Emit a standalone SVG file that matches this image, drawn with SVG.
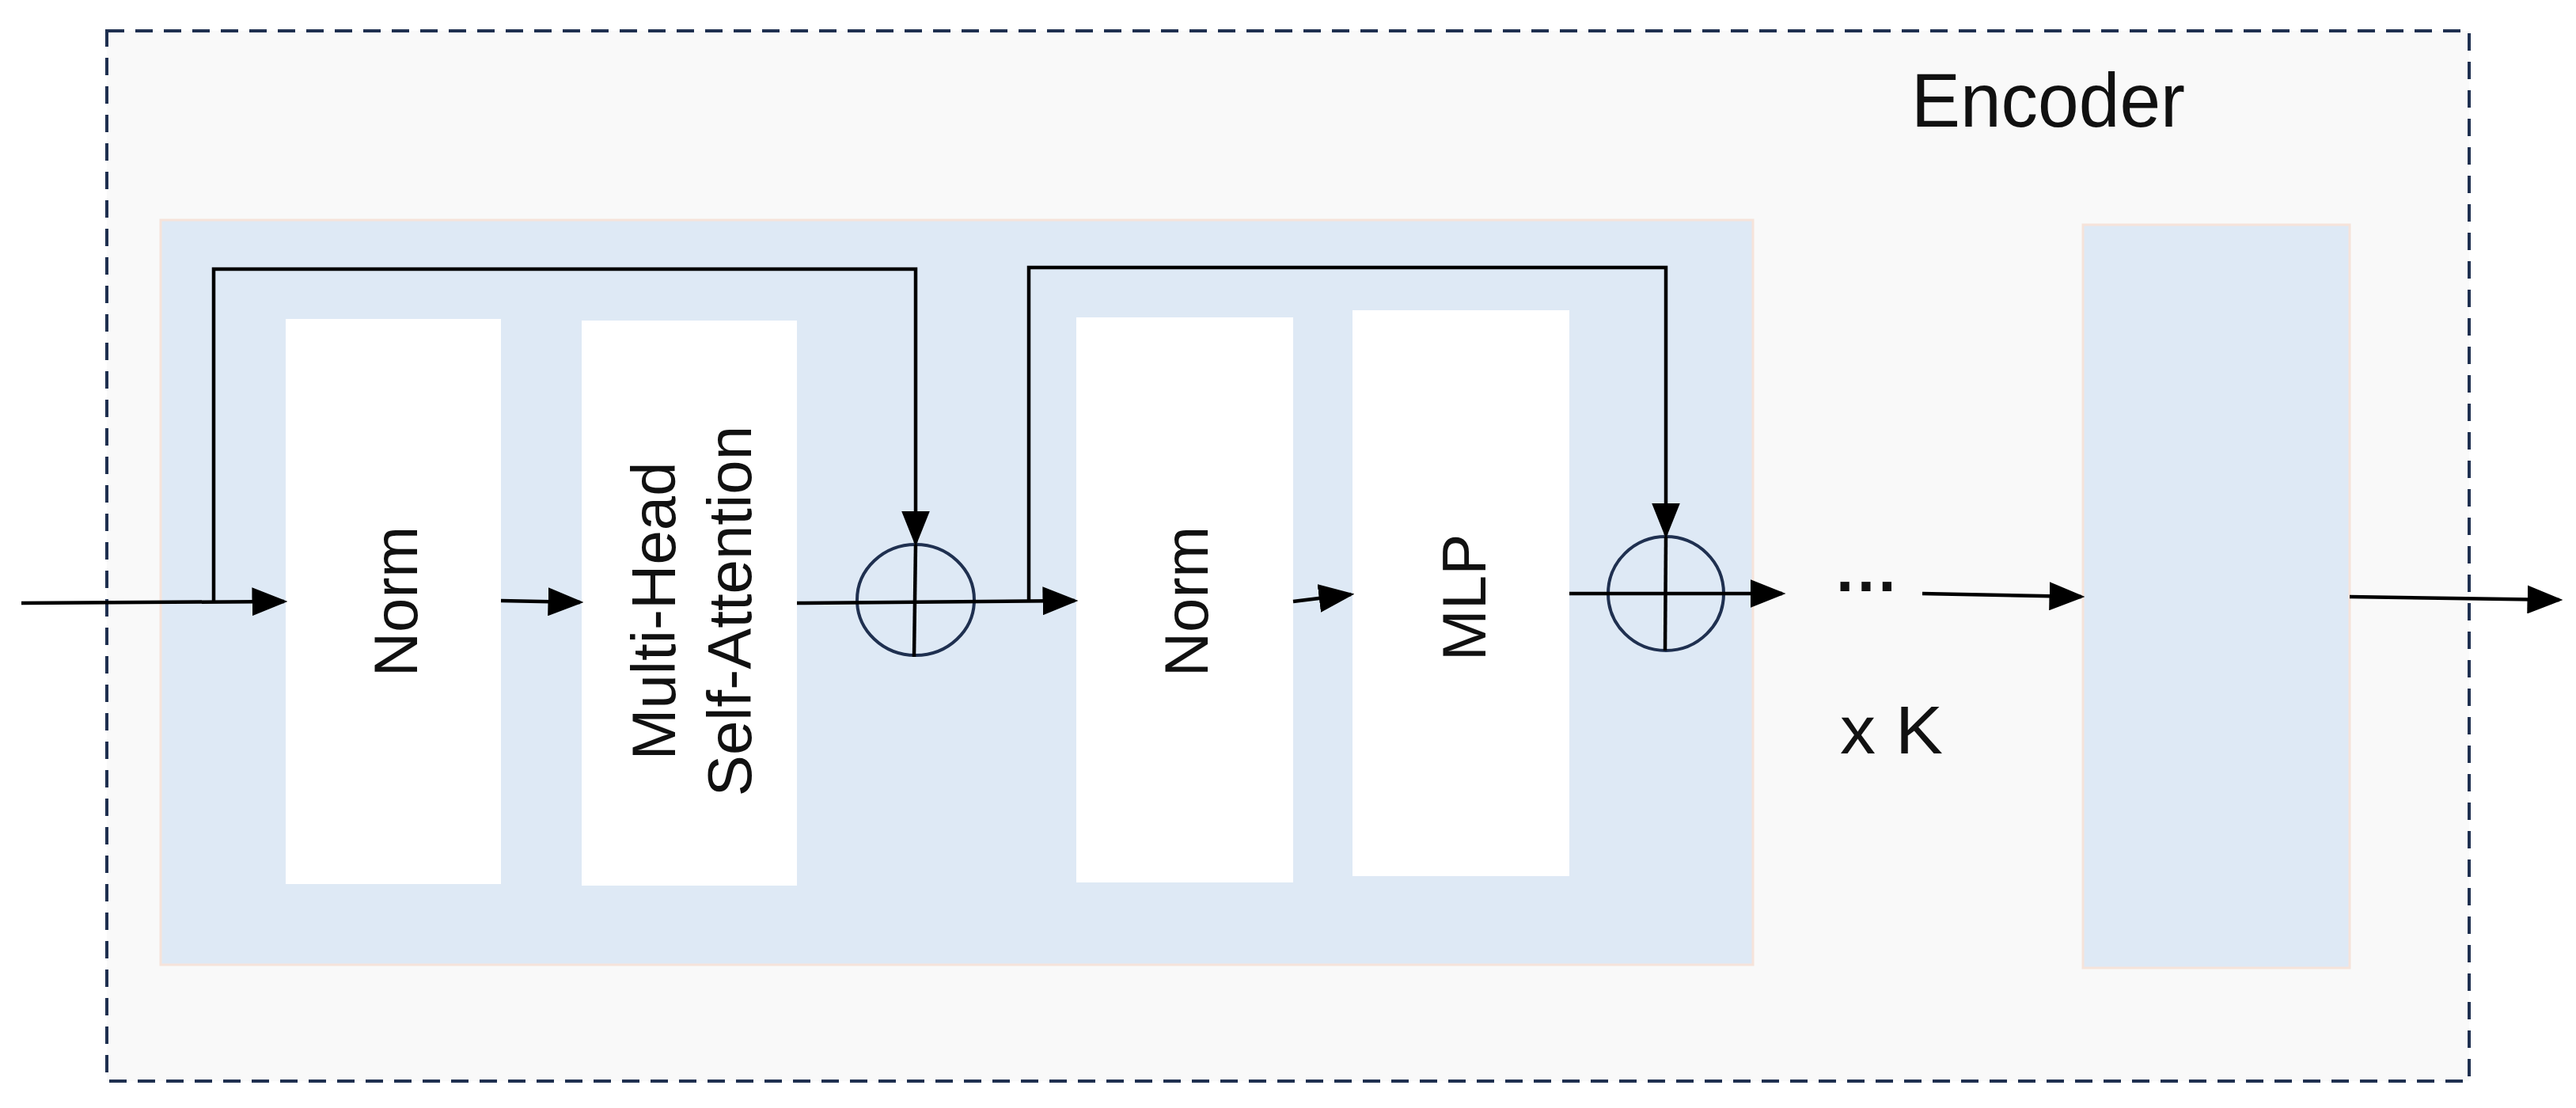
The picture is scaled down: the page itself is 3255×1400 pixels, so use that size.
<svg xmlns="http://www.w3.org/2000/svg" width="3255" height="1400" viewBox="0 0 3255 1400">
<defs>
<marker id="ah" markerWidth="10" markerHeight="8" refX="9" refY="4" orient="auto" markerUnits="strokeWidth"><path d="M0,0 L10,4 L0,8 Z" fill="#000"/></marker>
<style>
.blk{fill:#fff}
.blue{fill:#dee9f5;stroke:#f6e3da;stroke-width:3}
.t{font-family:"Liberation Sans",Arial,sans-serif;font-size:78px;fill:#111}
.ln{stroke:#000;stroke-width:4.5;fill:none}
.c{fill:none;stroke:#1f3050;stroke-width:4}
</style>
</defs>
<rect x="0" y="0" width="3255" height="1400" fill="#fff"/>
<g id="encoder">
<rect x="135" y="39" width="2985" height="1327" fill="#f9f9f9" stroke="#1f3050" stroke-width="4" stroke-dasharray="22,14"/>
<text x="2415" y="160" font-family="Liberation Sans,Arial,sans-serif" font-size="96" fill="#111" textLength="346" lengthAdjust="spacingAndGlyphs">Encoder</text>
</g>
<g id="block"><rect class="blue" x="203" y="278" width="2012" height="941"/></g>
<g id="block2"><rect class="blue" x="2632" y="284" width="337" height="939"/></g>
<g id="norm1"><rect class="blk" x="361" y="403" width="272" height="714"/>
<text class="t" transform="translate(500,760) rotate(-90)" text-anchor="middle" dominant-baseline="central">Norm</text></g>
<g id="mhsa"><rect class="blk" x="735" y="405" width="272" height="714"/>
<text class="t" transform="translate(826,772) rotate(-90)" text-anchor="middle" dominant-baseline="central">Multi-Head</text>
<text class="t" transform="translate(922,772) rotate(-90)" text-anchor="middle" dominant-baseline="central">Self-Attention</text></g>
<g id="norm2"><rect class="blk" x="1360" y="401" width="274" height="714"/>
<text class="t" transform="translate(1499,760) rotate(-90)" text-anchor="middle" dominant-baseline="central">Norm</text></g>
<g id="mlp"><rect class="blk" x="1709" y="392" width="274" height="715"/>
<text class="t" transform="translate(1850,755) rotate(-90)" text-anchor="middle" dominant-baseline="central">MLP</text></g>
<g id="add1"><ellipse class="c" cx="1157" cy="758" rx="74" ry="70"/></g>
<g id="add2"><ellipse class="c" cx="2105" cy="750" rx="73" ry="72"/></g>
<g id="labels">
<text x="2320" y="768" font-family="Liberation Sans,Arial,sans-serif" font-size="80" font-weight="bold" fill="#111">···</text>
<text x="2325" y="952" font-family="Liberation Sans,Arial,sans-serif" font-size="86" fill="#111" textLength="130" lengthAdjust="spacingAndGlyphs">x K</text>
</g>
<g id="connectors">
<line class="ln" x1="27" y1="762" x2="359" y2="760" marker-end="url(#ah)"/>
<polyline class="ln" points="270,760 270,340 1157,340 1157,686" marker-end="url(#ah)"/>
<line class="ln" x1="633" y1="759" x2="733" y2="761" marker-end="url(#ah)"/>
<line class="ln" x1="1007" y1="762" x2="1358" y2="759" marker-end="url(#ah)"/>
<line class="ln" x1="1157" y1="688" x2="1155" y2="830"/>
<polyline class="ln" points="1300,759 1300,338 2105,338 2105,676" marker-end="url(#ah)"/>
<line class="ln" x1="1634" y1="760" x2="1707" y2="751" marker-end="url(#ah)"/>
<line class="ln" x1="1983" y1="750" x2="2252" y2="750" marker-end="url(#ah)"/>
<line class="ln" x1="2105" y1="678" x2="2104" y2="822"/>
<line class="ln" x1="2429" y1="750" x2="2630" y2="754" marker-end="url(#ah)"/>
<line class="ln" x1="2969" y1="754" x2="3234" y2="758" marker-end="url(#ah)"/>
</g>
</svg>
